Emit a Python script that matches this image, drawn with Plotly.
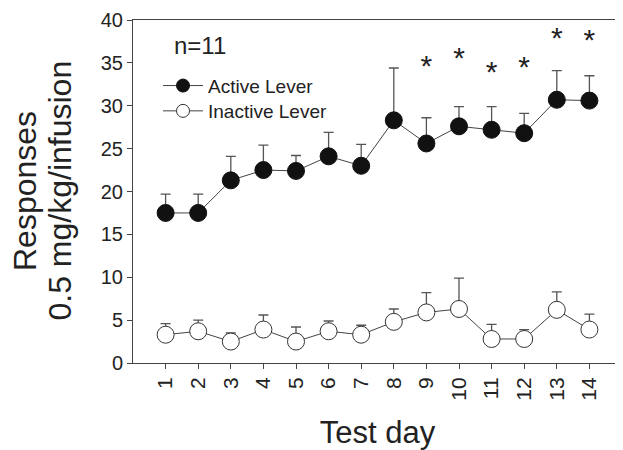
import plotly.graph_objects as go

days = list(range(1, 15))
active_mean = [17.5, 17.5, 21.3, 22.5, 22.4, 24.1, 23.0, 28.3, 25.6, 27.6, 27.2, 26.8, 30.7, 30.6]
active_err = [2.2, 2.2, 2.8, 2.9, 1.8, 2.8, 2.5, 6.1, 3.0, 2.3, 2.7, 2.3, 3.4, 2.9]
inactive_mean = [3.3, 3.7, 2.5, 3.9, 2.5, 3.7, 3.3, 4.8, 5.9, 6.3, 2.8, 2.8, 6.2, 3.9]
inactive_err = [1.3, 1.3, 1.0, 1.7, 1.7, 1.2, 1.1, 1.5, 2.3, 3.6, 1.7, 1.1, 2.1, 1.8]
star_days = [9, 10, 11, 12, 13, 14]
star_y = [34.4, 35.3, 33.6, 34.2, 37.6, 37.4]
x_tick_labels = [str(d) for d in days]
y_ticks = [0, 5, 10, 15, 20, 25, 30, 35, 40]

FONT = "Liberation Sans, Arial, sans-serif"
TXT = "#222222"
LINE = "#444444"

# plot area in screen pixels (page body has an 8px margin)
PL, PR, PT, PB = 133, 622, 20, 363
PW, PH = PR - PL, PB - PT


def px_x(x):
    return (x - PL) / PW


def px_y(y):
    return 1 - (y - PT) / PH


fig = go.Figure()

fig.add_trace(go.Scatter(
    x=days, y=active_mean, mode="lines+markers", name="Active Lever", showlegend=False,
    line=dict(color=LINE, width=1),
    marker=dict(symbol="circle", size=17, color="#111111", line=dict(color="#111111", width=1)),
    error_y=dict(type="data", symmetric=False, array=active_err,
                 arrayminus=[0] * len(days), color="#555555", thickness=1.3, width=5),
))
fig.add_trace(go.Scatter(
    x=days, y=inactive_mean, mode="lines+markers", name="Inactive Lever", showlegend=False,
    line=dict(color=LINE, width=1),
    marker=dict(symbol="circle", size=17, color="white", line=dict(color="#333333", width=1)),
    error_y=dict(type="data", symmetric=False, array=inactive_err,
                 arrayminus=[0] * len(days), color="#555555", thickness=1.3, width=5),
))
# legend entries
fig.add_trace(go.Scatter(
    x=[None], y=[None], mode="lines+markers", name="Active Lever", legend="legend",
    line=dict(color=LINE, width=1),
    marker=dict(symbol="circle", size=13, color="#111111", line=dict(color="#111111", width=1)),
))
fig.add_trace(go.Scatter(
    x=[None], y=[None], mode="lines+markers", name="Inactive Lever", legend="legend2",
    line=dict(color=LINE, width=1),
    marker=dict(symbol="circle", size=13, color="white", line=dict(color="#333333", width=1)),
))
fig.add_trace(go.Scatter(
    x=star_days, y=star_y, mode="text", text=["*"] * len(star_days),
    textposition="middle center", textfont=dict(family=FONT, size=30, color=TXT),
    showlegend=False, hoverinfo="skip",
))

leg_common = dict(xanchor="left", yanchor="top",
                  font=dict(family=FONT, size=19, color=TXT),
                  bgcolor="rgba(0,0,0,0)", itemwidth=40)

fig.update_layout(
    width=615, height=442,
    margin=dict(l=125, r=1, t=12, b=87, autoexpand=False),
    paper_bgcolor="white", plot_bgcolor="white",
    font=dict(family=FONT, color=TXT),
    showlegend=True,
    legend=dict(x=px_x(158), y=px_y(66.7), **leg_common),
    legend2=dict(x=px_x(158), y=px_y(92), **leg_common),
    xaxis=dict(range=[0, 15], tickmode="array", tickvals=days, ticktext=x_tick_labels,
               tickangle=-90, ticks="outside", ticklen=5, tickcolor=LINE,
               tickfont=dict(family=FONT, size=21, color=TXT), automargin=False,
               showline=True, linecolor=LINE, linewidth=1, mirror=True,
               showgrid=False, zeroline=False,
               title=dict(text="Test day", font=dict(family=FONT, size=31, color=TXT), standoff=28)),
    yaxis=dict(range=[0, 40], tickmode="array", tickvals=y_ticks,
               ticks="outside", ticklen=5, tickcolor=LINE, automargin=False,
               tickfont=dict(family=FONT, size=20, color=TXT),
               showline=True, linecolor=LINE, linewidth=1, mirror=True,
               showgrid=False, zeroline=False),
    annotations=[
        dict(text="n=11", xref="paper", yref="paper", x=px_x(172), y=px_y(45),
             xanchor="left", yanchor="middle", showarrow=False,
             font=dict(family=FONT, size=24, color=TXT)),
        dict(text="Responses", xref="paper", yref="paper",
             x=px_x(25), y=px_y(191), textangle=-90,
             xanchor="center", yanchor="middle", showarrow=False,
             font=dict(family=FONT, size=32, color=TXT)),
        dict(text="0.5 mg/kg/infusion", xref="paper", yref="paper",
             x=px_x(59.5), y=px_y(191), textangle=-90,
             xanchor="center", yanchor="middle", showarrow=False,
             font=dict(family=FONT, size=32, color=TXT)),
    ],
)

fig.write_html("out.html")
